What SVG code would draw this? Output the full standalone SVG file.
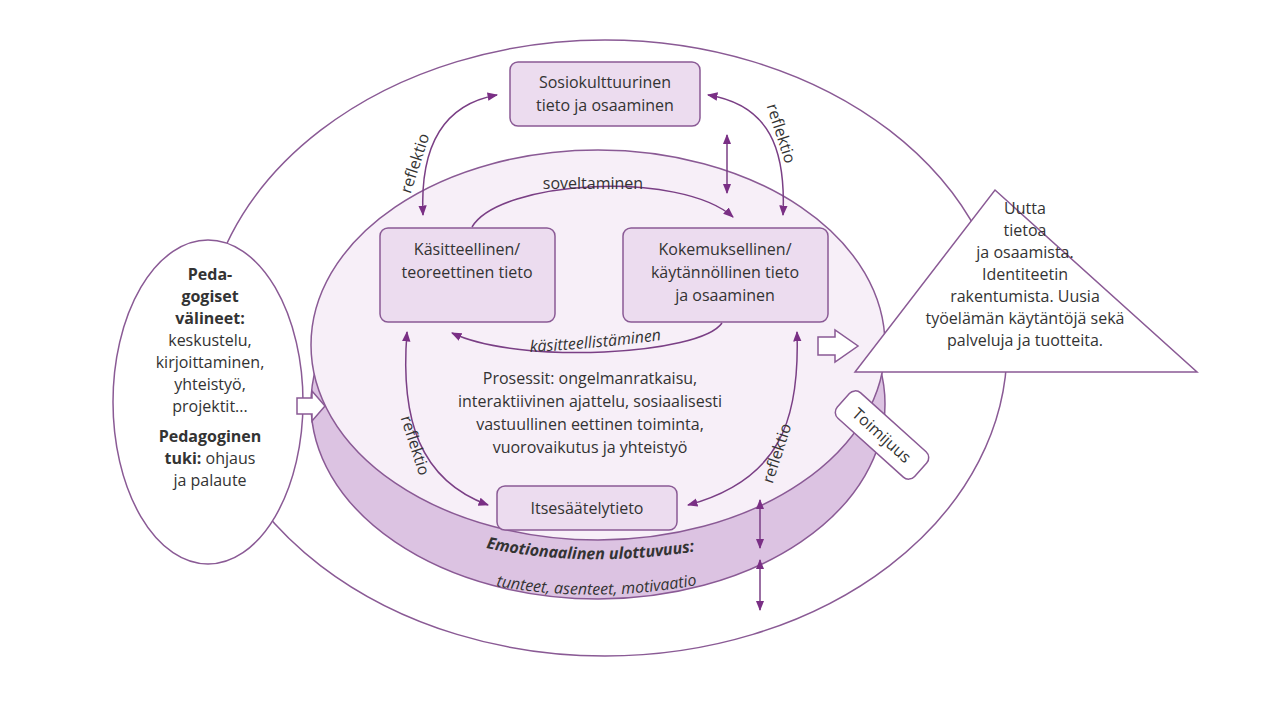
<svg xmlns="http://www.w3.org/2000/svg" width="1280" height="720" viewBox="0 0 1280 720">
<style>
text{font-family:"Open Sans","Liberation Sans",sans-serif;fill:#333;font-size:16px}
.b{font-weight:bold}
.ln{fill:none;stroke:#7a3f85;stroke-width:1.5}
.box{fill:#ecdcef;stroke:#8a5a95;stroke-width:1.5}
.c{text-anchor:middle}
</style>
<defs>
<marker id="a" viewBox="0 0 10 10" refX="9" refY="5" markerWidth="7" markerHeight="7" orient="auto-start-reverse"><path d="M0,1 L10,5 L0,9 z" fill="#7a2f85"/></marker>
</defs>
<rect width="1280" height="720" fill="#fff"/>
<g id="outer"><ellipse cx="605" cy="348" rx="402" ry="308" fill="none" stroke="#8a5a95" stroke-width="1.5"/></g>
<g id="disk">
<ellipse cx="598" cy="404" rx="287" ry="195" fill="#dcc3e2" stroke="#8a5a95" stroke-width="1.5"/>
<ellipse cx="598" cy="345" rx="287" ry="195" fill="#f7eff8" stroke="#8a5a95" stroke-width="1.5"/>
<path id="emo1" d="M486,548 Q610,574 752,540" fill="none"/>
<path id="emo2" d="M496,586 Q615,608 748,574" fill="none"/>
<text class="b" font-style="italic" font-size="15"><textPath href="#emo1">Emotionaalinen ulottuvuus:</textPath></text>
<text font-style="italic" font-size="15"><textPath href="#emo2">tunteet, asenteet, motivaatio</textPath></text>
</g>
<g id="left"><ellipse cx="208" cy="402" rx="95" ry="162" fill="#fff" stroke="#8a5a95" stroke-width="1.5"/>
<text class="c" x="210"><tspan class="b" x="210" y="280">Peda-</tspan><tspan class="b" x="210" y="302">gogiset</tspan><tspan class="b" x="210" y="324">välineet:</tspan><tspan x="210" y="346">keskustelu,</tspan><tspan x="210" y="368">kirjoittaminen,</tspan><tspan x="210" y="390">yhteistyö,</tspan><tspan x="210" y="412">projektit...</tspan><tspan class="b" x="210" y="442">Pedagoginen</tspan><tspan x="210" y="464"><tspan class="b">tuki:</tspan> ohjaus</tspan><tspan x="210" y="486">ja palaute</tspan></text></g>
<g id="tri"><path d="M995,190 L1197,372 L855,372 z" fill="#fff" stroke="#8a5a95" stroke-width="1.5"/>
<text class="c" font-size="15"><tspan x="1025" y="214">Uutta</tspan><tspan x="1025" y="236">tietoa</tspan><tspan x="1025" y="258">ja osaamista.</tspan><tspan x="1025" y="280">Identiteetin</tspan><tspan x="1025" y="302">rakentumista. Uusia</tspan><tspan x="1025" y="324">työelämän käytäntöjä sekä</tspan><tspan x="1025" y="346">palveluja ja tuotteita.</tspan></text></g>
<g id="toimijuus" transform="translate(882,435) rotate(42)"><rect x="-52" y="-17" width="104" height="34" rx="8" fill="#fff" stroke="#8a5a95" stroke-width="1.5"/><text class="c" y="6">Toimijuus</text></g>
<g id="hollow" fill="#fff" stroke="#8a5a95" stroke-width="1.5">
<path d="M297,398 H312 V391 L325,406 L312,421 V414 H297 z"/>
<path d="M818,337 H835 V330 L858,346 L835,362 V355 H818 z"/>
</g>
<g id="sosio"><rect class="box" x="510" y="62" width="190" height="64" rx="8"/><text class="c"><tspan x="605" y="88">Sosiokulttuurinen</tspan><tspan x="605" y="111">tieto ja osaaminen</tspan></text></g>
<g id="kasit"><rect class="box" x="380" y="228" width="175" height="94" rx="8"/><text class="c"><tspan x="467" y="255">Käsitteellinen/</tspan><tspan x="467" y="278">teoreettinen tieto</tspan></text></g>
<g id="kokem"><rect class="box" x="623" y="228" width="205" height="94" rx="8"/><text class="c"><tspan x="725" y="255">Kokemuksellinen/</tspan><tspan x="725" y="278">käytännöllinen tieto</tspan><tspan x="725" y="301">ja osaaminen</tspan></text></g>
<g id="itse"><rect class="box" x="497" y="486" width="180" height="44" rx="8"/><text class="c" x="587" y="514">Itsesäätelytieto</text></g>
<text class="c"><tspan x="590" y="384">Prosessit: ongelmanratkaisu,</tspan><tspan x="590" y="407">interaktiivinen ajattelu, sosiaalisesti</tspan><tspan x="590" y="430">vastuullinen eettinen toiminta,</tspan><tspan x="590" y="453">vuorovaikutus ja yhteistyö</tspan></text>
<g id="connectors" class="ln">
<path class="ln" d="M423,215 C420,150 440,105 497,95" marker-start="url(#a)" marker-end="url(#a)"/>
<path class="ln" d="M783,215 C786,150 770,105 708,95" marker-start="url(#a)" marker-end="url(#a)"/>
<path class="ln" d="M727,135 V193" marker-start="url(#a)" marker-end="url(#a)"/>
<path class="ln" d="M472,227 C500,180 680,170 733,217" marker-end="url(#a)"/>
<path class="ln" d="M722,323 C700,355 520,365 452,333" marker-end="url(#a)"/>
<path class="ln" d="M407,332 C400,420 420,480 488,505" marker-start="url(#a)" marker-end="url(#a)"/>
<path class="ln" d="M797,332 C800,420 780,480 688,505" marker-start="url(#a)" marker-end="url(#a)"/>
<path class="ln" d="M760,500 V548" marker-start="url(#a)" marker-end="url(#a)"/>
<path class="ln" d="M760,560 V610" marker-start="url(#a)" marker-end="url(#a)"/>
</g>
<text transform="translate(420,165) rotate(-72)" class="c" font-size="15">reflektio</text>
<text transform="translate(776,135) rotate(72)" class="c" font-size="15">reflektio</text>
<text class="c" x="593" y="189">soveltaminen</text>
<path id="kp" d="M530,352 Q610,348 690,336" fill="none"/>
<text font-style="italic"><textPath href="#kp">käsitteellistäminen</textPath></text>
<text transform="translate(410,447) rotate(72)" class="c" font-size="15">reflektio</text>
<text transform="translate(782,455) rotate(-72)" class="c" font-size="15">reflektio</text>
</svg>
